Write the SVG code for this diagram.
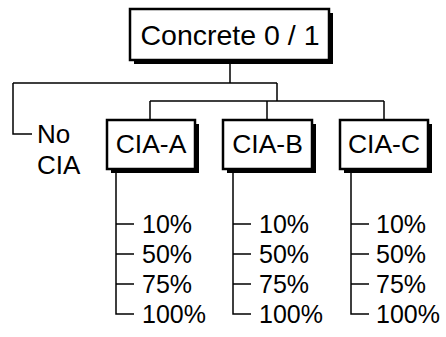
<svg xmlns="http://www.w3.org/2000/svg" width="446" height="337" viewBox="0 0 446 337">
<style>
.bx{fill:#fff;stroke:#000;stroke-width:2.5}
.sh{fill:#000}
.ln{fill:none;stroke:#000;stroke-width:1.5}
text{font-family:"Liberation Sans",Arial,sans-serif;fill:#000}
.t{font-size:26.5px;text-anchor:middle}
.p{font-size:25px}
</style>
<rect width="446" height="337" fill="#fff"/>
<g id="connectors">
<path class="ln" d="M230,60V83M13,83H277M13,83V134H32M277,83V101M150,101H384M150,101V120M267,101V120M384,101V120"/>
<path class="ln" d="M116,173V314H134M116,224H134M116,254H134M116,284H134"/>
<path class="ln" d="M233,173V314H251M233,224H251M233,254H251M233,284H251"/>
<path class="ln" d="M351,173V314H369M351,224H369M351,254H369M351,284H369"/>
</g>
<g id="concrete">
<rect class="sh" x="134" y="13" width="199" height="51"/>
<rect class="bx" x="130" y="9" width="199" height="51"/>
<text x="230" y="45" style="font-size:28.5px;text-anchor:middle">Concrete 0 / 1</text>
</g>
<g id="nocia">
<text class="p" x="37" y="143" style="font-size:26px">No</text>
<text class="p" x="37" y="174" style="font-size:26px">CIA</text>
</g>
<g id="cia-a">
<rect class="sh" x="111" y="124" width="88" height="49"/>
<rect class="bx" x="107" y="120" width="88" height="49"/>
<text class="t" x="151" y="153">CIA-A</text>
</g>
<g id="cia-b">
<rect class="sh" x="227" y="124" width="89" height="49"/>
<rect class="bx" x="223" y="120" width="89" height="49"/>
<text class="t" x="267.5" y="153">CIA-B</text>
</g>
<g id="cia-c">
<rect class="sh" x="344" y="124" width="88" height="49"/>
<rect class="bx" x="340" y="120" width="88" height="49"/>
<text class="t" x="384" y="153">CIA-C</text>
</g>
<g id="a-levels">
<text class="p" x="142" y="233">10%</text>
<text class="p" x="142" y="263">50%</text>
<text class="p" x="142" y="293">75%</text>
<text class="p" x="142" y="323">100%</text>
</g>
<g id="b-levels">
<text class="p" x="259" y="233">10%</text>
<text class="p" x="259" y="263">50%</text>
<text class="p" x="259" y="293">75%</text>
<text class="p" x="259" y="323">100%</text>
</g>
<g id="c-levels">
<text class="p" x="376" y="233">10%</text>
<text class="p" x="376" y="263">50%</text>
<text class="p" x="376" y="293">75%</text>
<text class="p" x="376" y="323">100%</text>
</g>
</svg>
